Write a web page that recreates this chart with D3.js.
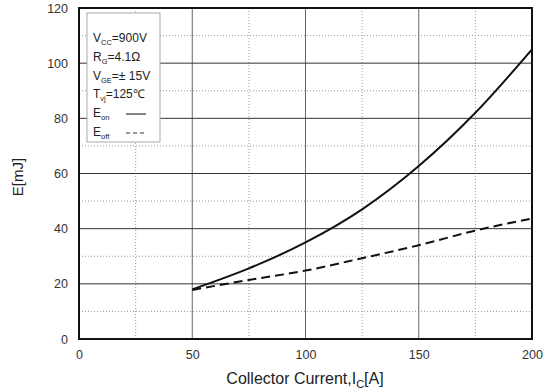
<!DOCTYPE html>
<html>
<head>
<meta charset="utf-8">
<script src="https://cdn.jsdelivr.net/npm/d3@7"></script>
<style>
  body { margin: 0; background: #fff; }
  svg { font-family: "Liberation Sans", Arial, sans-serif; }
  .tick text { fill: #333; font-size: 12.5px; }
</style>
</head>
<body>
<div id="chart"></div>
<script>
const w = 554;
const h = 392;
const margin = { left: 79, right: 22, top: 8, bottom: 53 };

// data
const currents = [50, 75, 100, 125, 150, 175, 200];
const eOn = [18, 25.6, 35, 47, 62.7, 82, 105];
const eOff = [17.8, 21.4, 24.8, 29.3, 34, 39.3, 43.7];
const xTicks = [0, 50, 100, 150, 200];
const yTicks = [0, 20, 40, 60, 80, 100, 120];
const xMinor = [25, 75, 125, 175];
const yMinor = [10, 30, 50, 70, 90, 110];
const legendLines = [
  ["V", "CC", "=900V"],
  ["R", "G", "=4.1Ω"],
  ["V", "GE", "=± 15V"],
  ["T", "vj", "=125℃"],
  ["E", "on", ""],
  ["E", "off", ""]
];

const svg = d3.select("#chart").append("svg")
  .attr("width", w)
  .attr("height", h);

const xScale = d3.scaleLinear().domain([0, 200]).range([margin.left, w - margin.right]);
const yScale = d3.scaleLinear().domain([0, 120]).range([h - margin.bottom, margin.top]);

// minor dotted grid
svg.append("g").selectAll("line.vminor")
  .data(xMinor).enter().append("line")
  .attr("x1", d => xScale(d)).attr("x2", d => xScale(d))
  .attr("y1", yScale(120)).attr("y2", yScale(0))
  .attr("stroke", "#999").attr("stroke-width", 1).attr("stroke-dasharray", "1,2");
svg.append("g").selectAll("line.hminor")
  .data(yMinor).enter().append("line")
  .attr("x1", xScale(0)).attr("x2", xScale(200))
  .attr("y1", d => yScale(d)).attr("y2", d => yScale(d))
  .attr("stroke", "#999").attr("stroke-width", 1).attr("stroke-dasharray", "1,2");

// major solid grid
svg.append("g").selectAll("line.vmajor")
  .data(xTicks.slice(1, -1)).enter().append("line")
  .attr("x1", d => xScale(d)).attr("x2", d => xScale(d))
  .attr("y1", yScale(120)).attr("y2", yScale(0))
  .attr("stroke", "#666").attr("stroke-width", 1);
svg.append("g").selectAll("line.hmajor")
  .data(yTicks.slice(1, -1)).enter().append("line")
  .attr("x1", xScale(0)).attr("x2", xScale(200))
  .attr("y1", d => yScale(d)).attr("y2", d => yScale(d))
  .attr("stroke", "#333").attr("stroke-width", 1);

// axes
const xAxis = d3.axisBottom(xScale).tickValues(xTicks).tickSize(0).tickPadding(11);
svg.append("g")
  .attr("transform", "translate(0," + (h - margin.bottom) + ")")
  .call(xAxis)
  .call(g => g.select(".domain").remove());

const yAxis = d3.axisLeft(yScale).tickValues(yTicks).tickSize(0).tickPadding(11);
svg.append("g")
  .attr("transform", "translate(" + margin.left + ",0)")
  .call(yAxis)
  .call(g => g.select(".domain").remove());

// frame
svg.append("rect")
  .attr("x", xScale(0)).attr("y", yScale(120))
  .attr("width", xScale(200) - xScale(0))
  .attr("height", yScale(0) - yScale(120))
  .attr("fill", "none").attr("stroke", "#111").attr("stroke-width", 2);

// curves
const line = d3.line()
  .x((d, i) => xScale(currents[i]))
  .y(d => yScale(d))
  .curve(d3.curveMonotoneX);

svg.append("path").datum(eOn)
  .attr("d", line).attr("fill", "none")
  .attr("stroke", "#111").attr("stroke-width", 2);
svg.append("path").datum(eOff)
  .attr("d", line).attr("fill", "none")
  .attr("stroke", "#111").attr("stroke-width", 2)
  .attr("stroke-dasharray", "9,5");

// axis titles
svg.append("text")
  .attr("x", 305).attr("y", 384)
  .attr("text-anchor", "middle")
  .attr("font-size", 16).attr("fill", "#222")
  .html('Collector Current,I<tspan font-size="11" dy="4">C</tspan><tspan dy="-4">[A]</tspan>');

svg.append("text")
  .attr("transform", "translate(23,177) rotate(-90)")
  .attr("text-anchor", "middle")
  .attr("font-size", 15).attr("fill", "#222")
  .text("E[mJ]");

// legend
const legend = svg.append("g");
legend.append("rect")
  .attr("x", 87).attr("y", 13)
  .attr("width", 73).attr("height", 129)
  .attr("fill", "#fff").attr("stroke", "#aaa").attr("stroke-width", 1);

legend.selectAll("text")
  .data(legendLines).enter().append("text")
  .attr("x", 93)
  .attr("y", (d, i) => 42 + i * 18.8)
  .attr("font-size", 12).attr("fill", "#222")
  .each(function (d) {
    const t = d3.select(this);
    t.append("tspan").text(d[0]);
    t.append("tspan").attr("font-size", 7.5).attr("dy", 3).text(d[1]);
    if (d[2]) t.append("tspan").attr("dy", -3).text(d[2]);
  });

legend.append("line")
  .attr("x1", 126).attr("x2", 146)
  .attr("y1", 114).attr("y2", 114)
  .attr("stroke", "#333").attr("stroke-width", 1.2);
legend.append("line")
  .attr("x1", 126).attr("x2", 146)
  .attr("y1", 133).attr("y2", 133)
  .attr("stroke", "#333").attr("stroke-width", 1.2)
  .attr("stroke-dasharray", "4,3");
</script>
</body>
</html>
